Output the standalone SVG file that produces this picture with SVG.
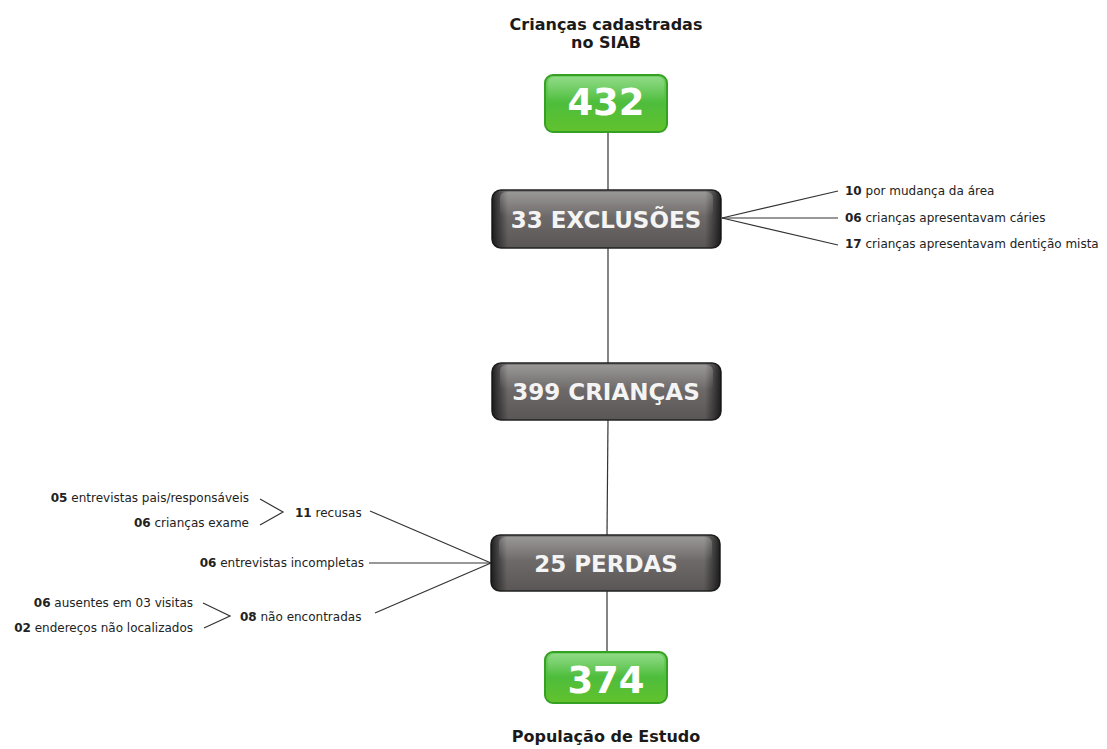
<svg xmlns="http://www.w3.org/2000/svg" width="1107" height="749" viewBox="0 0 1107 749">
<defs>
<linearGradient id="gGreen" x1="0" y1="0" x2="0" y2="1">
<stop offset="0" stop-color="#72d166"/>
<stop offset="0.5" stop-color="#4ebd3c"/>
<stop offset="1" stop-color="#62c22c"/>
</linearGradient>
<linearGradient id="gGrayV" x1="0" y1="0" x2="0" y2="1">
<stop offset="0" stop-color="#7e7a7a"/>
<stop offset="0.5" stop-color="#6c6868"/>
<stop offset="1" stop-color="#5a5656"/>
</linearGradient>
<linearGradient id="gGrayH" x1="0" y1="0" x2="1" y2="0">
<stop offset="0" stop-color="#111" stop-opacity="0.85"/>
<stop offset="0.07" stop-color="#111" stop-opacity="0"/>
<stop offset="0.93" stop-color="#111" stop-opacity="0"/>
<stop offset="1" stop-color="#111" stop-opacity="0.85"/>
</linearGradient>
<linearGradient id="gGloss" x1="0" y1="0" x2="0" y2="1">
<stop offset="0" stop-color="#fff" stop-opacity="0.22"/>
<stop offset="1" stop-color="#fff" stop-opacity="0"/>
</linearGradient>
</defs>
<style>
.title{font-family:"DejaVu Sans",Verdana,sans-serif;font-weight:bold;font-size:16px;fill:#1a1a1a;text-anchor:middle}
.big{font-family:"DejaVu Sans",Verdana,sans-serif;font-weight:bold;font-size:37px;fill:#fff;text-anchor:middle}
.lbl{font-family:"DejaVu Sans",Verdana,sans-serif;font-weight:bold;font-size:23px;fill:#f4f4f4;text-anchor:middle}
.sm{font-family:"DejaVu Sans",Verdana,sans-serif;font-size:12px;fill:#222}
.sm tspan.b{font-weight:bold}
.end{text-anchor:end}
.ln{stroke:#333;stroke-width:1.2;fill:none}
.green{fill:url(#gGreen);stroke:#35a023;stroke-width:2}
.gray{fill:url(#gGrayV);stroke:#222;stroke-width:1.5}
</style>
<rect width="1107" height="749" fill="#fff"/>
<g id="connectors">
<line class="ln" x1="608" y1="132" x2="608" y2="190"/>
<line class="ln" x1="608" y1="248" x2="608" y2="363"/>
<line class="ln" x1="608" y1="420" x2="607" y2="535"/>
<line class="ln" x1="607" y1="590" x2="607" y2="652"/>
<line class="ln" x1="722" y1="218" x2="838" y2="191"/>
<line class="ln" x1="722" y1="218" x2="838" y2="218"/>
<line class="ln" x1="722" y1="218" x2="838" y2="245"/>
<line class="ln" x1="491" y1="563" x2="370" y2="511"/>
<line class="ln" x1="491" y1="563" x2="369" y2="563"/>
<line class="ln" x1="491" y1="563" x2="375" y2="613"/>
<polyline class="ln" points="260,499 283,512 260,525"/>
<polyline class="ln" points="203,603 230,616 204,628"/>
</g>
<g id="title-top"><text class="title" x="606" y="30">Crianças cadastradas</text><text class="title" x="606" y="48">no SIAB</text></g>
<g id="n432">
<rect class="green" x="545" y="75" width="122" height="57" rx="8"/>
<rect x="548" y="77" width="116" height="24" rx="6" fill="url(#gGloss)"/>
<text class="big" x="606" y="115">432</text>
</g>
<g id="n-exclusoes">
<rect class="gray" x="492" y="190" width="229" height="58" rx="9"/>
<rect x="492" y="190" width="229" height="58" rx="9" fill="url(#gGrayH)"/>
<rect x="500" y="192" width="213" height="25" rx="6" fill="url(#gGloss)"/>
<text class="lbl" x="606" y="228">33 EXCLUSÕES</text>
</g>
<g id="exclusoes-items">
<text class="sm" x="845" y="195"><tspan class="b">10</tspan> por mudança da área</text>
<text class="sm" x="845" y="222"><tspan class="b">06</tspan> crianças apresentavam cáries</text>
<text class="sm" x="845" y="248"><tspan class="b">17</tspan> crianças apresentavam dentição mista</text>
</g>
<g id="n399">
<rect class="gray" x="492" y="363" width="229" height="57" rx="9"/>
<rect x="492" y="363" width="229" height="57" rx="9" fill="url(#gGrayH)"/>
<rect x="500" y="365" width="213" height="25" rx="6" fill="url(#gGloss)"/>
<text class="lbl" x="606" y="400">399 CRIANÇAS</text>
</g>
<g id="n-perdas">
<rect class="gray" x="491" y="535" width="229" height="56" rx="9"/>
<rect x="491" y="535" width="229" height="56" rx="9" fill="url(#gGrayH)"/>
<rect x="499" y="537" width="213" height="24" rx="6" fill="url(#gGloss)"/>
<text class="lbl" x="606" y="572">25 PERDAS</text>
</g>
<g id="perdas-items">
<text class="sm end" x="249" y="502"><tspan class="b">05</tspan> entrevistas pais/responsáveis</text>
<text class="sm end" x="249" y="527"><tspan class="b">06</tspan> crianças exame</text>
<text class="sm" x="295" y="517"><tspan class="b">11</tspan> recusas</text>
<text class="sm end" x="364" y="567"><tspan class="b">06</tspan> entrevistas incompletas</text>
<text class="sm end" x="193" y="607"><tspan class="b">06</tspan> ausentes em 03 visitas</text>
<text class="sm end" x="193" y="632"><tspan class="b">02</tspan> endereços não localizados</text>
<text class="sm" x="240" y="621"><tspan class="b">08</tspan> não encontradas</text>
</g>
<g id="n374">
<rect class="green" x="545" y="652" width="122" height="51" rx="8"/>
<rect x="548" y="654" width="116" height="22" rx="6" fill="url(#gGloss)"/>
<text class="big" x="606" y="693">374</text>
</g>
<g id="title-bottom"><text class="title" x="606" y="742">População de Estudo</text></g>
</svg>
